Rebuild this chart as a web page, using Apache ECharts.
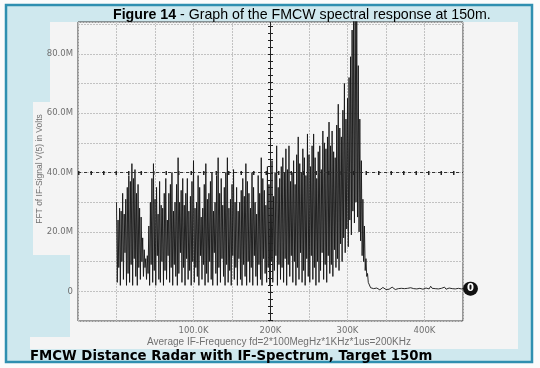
<!DOCTYPE html>
<html>
<head>
<meta charset="utf-8">
<script src="https://cdn.jsdelivr.net/npm/echarts@6/dist/echarts.min.js"></script>
<style>html,body{margin:0;padding:0;background:#fbfbfb}#c{width:540px;height:368px}</style>
</head>
<body>
<div id="c"></div>
<script>
// FFT bin spacing (kHz) of the spectrum part
const specStepK = 1;
// Spectrum amplitude (M) from 0 kHz to 327 kHz, one value per bin
const specAmpM = [
 30,3,24,8,28,2,27,10,33,4,26,13,31,2,35,6,39,3,37,9,
 43,2,38,11,41,5,33,2,36,8,28,4,25,10,18,5,14,8,11,4,
 12,6,22,2,30,9,38,3,43,7,31,2,35,12,26,4,37,3,29,10,
 28,2,33,7,38,4,24,12,33,3,36,8,40,2,27,9,30,5,36,2,
 45,6,30,13,34,3,38,8,29,2,33,11,38,4,27,7,32,2,37,10,
 44,3,28,8,30,5,39,2,35,12,25,4,28,9,36,2,43,6,31,3,
 33,10,37,4,40,2,27,13,30,6,39,2,45,8,33,3,38,11,29,5,
 35,2,40,9,45,3,28,7,31,2,36,12,41,4,30,8,35,2,27,11,
 30,4,34,2,38,9,32,5,43,2,37,10,33,3,28,8,40,2,35,12,
 30,5,26,2,39,9,33,4,45,2,38,11,34,6,29,3,42,8,36,2,
 37,10,44,3,32,7,40,12,49,2,35,9,38,4,42,8,45,3,40,11,
 48,2,41,9,49,5,37,12,40,3,44,10,36,2,46,8,52,4,43,13,
 40,3,48,7,45,2,39,11,53,5,46,3,42,12,49,4,53,8,45,2,
 38,10,47,3,49,7,41,13,54,4,50,9,48,3,52,12,57,6,49,9,
 54,5,47,14,45,8,56,11,63,7,55,16,52,10,61,18,70,13,58,21,
 65,15,72,24,79,19,88,27,96,23,99,30,94,25,76,20,58,17,44,12,
 31,10,22,7,11,5,6,3
];
// Noise floor amplitude (M) from 328 kHz to 450 kHz
const floorStartK = 328;
const floorStepK = 2;
const floorAmpM = [
 2.5,1.2,0.6,0.9,0.7,1.1,0.8,0.5,0.9,1.3,
 0.8,0.6,1.0,0.7,0.9,1.4,0.8,0.6,1.1,0.9,
 0.7,1.0,1.6,0.9,0.6,1.0,0.8,1.2,0.7,0.9,
 1.5,0.8,0.6,1.0,1.3,0.7,0.9,1.1,0.6,0.8,
 1.7,1.0,0.7,0.9,1.2,0.8,0.6,1.0,0.9,1.4,
 0.7,0.8,1.1,0.6,0.9,1.3,0.8,0.7,1.0,0.6,
 0.8,0.9
];
const xTickLabels = {100:'100.0K', 200:'200K', 300:'300K', 400:'400K'};
const yTickLabels = {0:'0', 20:'20.0M', 40:'40.0M', 60:'60.0M', 80:'80.0M'};
const cursorX = 200;
const cursorY = 40;

const seriesData = specAmpM.map((v, i) => [i * specStepK, v])
  .concat(floorAmpM.map((v, i) => [floorStartK + i * floorStepK, v]));

const chart = echarts.init(document.getElementById('c'), null, {renderer:'canvas'});
const panel = '#f4f4f4';
chart.setOption({
  backgroundColor: '#fbfbfb',
  animation: false,
  graphic: [
    {type:'rect', z:-10, shape:{x:6,y:5,width:526,height:357}, style:{fill:'#cfe8ee', stroke:'#2f8fb0', lineWidth:2.5}},
    {type:'rect', z:-9, shape:{x:70,y:22,width:448,height:327}, style:{fill:panel}},
    {type:'rect', z:-9, shape:{x:50,y:22,width:20,height:233}, style:{fill:panel}},
    {type:'rect', z:-9, shape:{x:33,y:102,width:17,height:153}, style:{fill:panel}},
    {type:'rect', z:-9, shape:{x:30,y:337,width:40,height:12}, style:{fill:panel}},
    {type:'text', z:10, style:{x:113, y:15, text:'{b|Figure 14} - Graph of the FMCW spectral response at 150m.',
      font:'14.2px "Liberation Sans"', fill:'#000', textVerticalAlign:'middle',
      rich:{b:{fontWeight:'bold', fontSize:14.2, fontFamily:'Liberation Sans', fill:'#000'}}}},
    {type:'text', z:10, style:{x:30, y:357, text:'FMCW Distance Radar with IF-Spectrum, Target 150m',
      font:'bold 13.3px "DejaVu Sans"', fill:'#000', textVerticalAlign:'middle'}},
    {type:'text', z:10, style:{x:279, y:342, text:'Average IF-Frequency fd=2*100MegHz*1KHz*1us=200KHz',
      font:'10px "Liberation Sans"', fill:'#707070', textAlign:'center', textVerticalAlign:'middle'}},
    {type:'text', z:10, x:40, y:169, rotation:Math.PI/2, style:{x:0, y:0, text:'FFT of IF-Signal V(5) in Volts',
      font:'8.5px "Liberation Sans"', fill:'#707070', textAlign:'center', textVerticalAlign:'middle'}}
  ],
  grid: {left:78, right:77, top:22, bottom:47, show:true, backgroundColor:'#f5f5f5', borderColor:'#3a3a3a', borderWidth:1},
  xAxis: {
    type:'value', min:-50, max:450, interval:50,
    axisLine:{show:false}, axisTick:{show:false},
    splitLine:{show:true, lineStyle:{color:'#c2c2c2', width:1, type:[2,1]}},
    axisLabel:{formatter:v => xTickLabels[v] || '', fontSize:8.5, color:'#707070', margin:5, fontFamily:'DejaVu Sans', showMaxLabel:false}
  },
  yAxis: {
    type:'value', min:-10, max:90.7, interval:10,
    axisLine:{show:false}, axisTick:{show:false},
    splitLine:{show:true, lineStyle:{color:'#c2c2c2', width:1, type:[2,1]}},
    axisLabel:{formatter:v => yTickLabels[v] || '', fontSize:8.5, color:'#707070', margin:5, fontFamily:'DejaVu Sans', showMaxLabel:false}
  },
  series: [
    {
      type:'line', data:seriesData, showSymbol:false, symbol:'none', clip:true,
      lineStyle:{color:'#141414', width:0.9}, z:3,
      endLabel:{show:true, formatter:'0', color:'#fff', backgroundColor:'#111', borderRadius:7,
        padding:[2,4], fontSize:10, fontWeight:'bold', fontFamily:'DejaVu Sans', distance:0, lineHeight:10}
    },
    {
      type:'line', data:[], z:4,
      markLine:{silent:true, symbol:'none', label:{show:false}, animation:false,
        data:[
          {xAxis:cursorX, lineStyle:{color:'#222', width:1, type:'solid'}},
          {yAxis:cursorY, lineStyle:{color:'#333', width:1, type:[3,3]}}
        ]}
    },
    {
      type:'line', data:[], z:4,
      markLine:{silent:true, symbol:'none', label:{show:false}, animation:false,
        data:[
          {xAxis:cursorX, lineStyle:{color:'#222', width:5, type:[1,6]}},
          {yAxis:cursorY, lineStyle:{color:'#222', width:4, type:[1.5,11]}}
        ]}
    }
  ]
});
</script>
</body>
</html>
